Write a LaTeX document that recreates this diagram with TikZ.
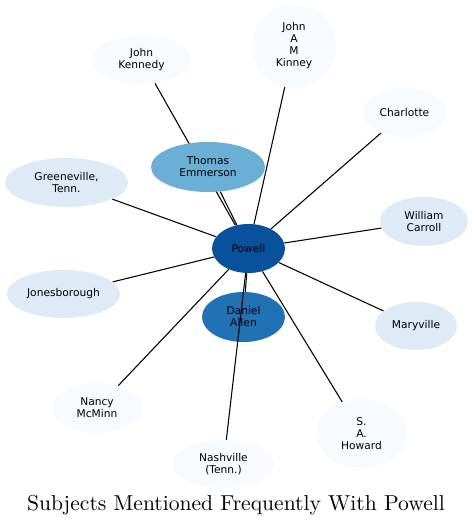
\documentclass[tikz,border=0pt]{standalone}
\usepackage{fontspec}
\usepackage{tikz}
\usetikzlibrary{shapes.geometric, backgrounds}
\newfontfamily\labelfont{DejaVu Sans}
\definecolor{blueA}{HTML}{F7FBFF}
\definecolor{blueB}{HTML}{DEEBF7}
\definecolor{blueC}{HTML}{6BAED6}
\definecolor{blueD}{HTML}{2171B5}
\definecolor{blueE}{HTML}{08519C}
\tikzset{
  subj/.style 2 args = {ellipse, inner sep=0pt, align=center,
                       minimum width=#1*1.5pt, minimum height=#2*1.5pt,
                       font=\labelfont\fontsize{8}{9}\selectfont},
  rare/.style     = {fill=blueA},
  some/.style     = {fill=blueB},
  often/.style    = {fill=blueC},
  most/.style     = {fill=blueD},
  hub/.style      = {fill=blueE},
  link/.style     = {draw=black, line width=0.8pt},
  caption/.style  = {font=\fontsize{10}{12}\selectfont, inner sep=0pt},
}

\begin{document}
\begin{tikzpicture}[x=0.75pt, y=-0.75pt]
  \useasboundingbox (0,0) rectangle (473,526);

  \node[subj={36.5}{24.5}, hub]   (powell)   at (248.5,248.5) {Powell};
  \node[subj={57}{25},     often] (emmerson) at (208,167)     {Thomas\\Emmerson};
  \node[subj={41.5}{25},   most]  (allen)    at (243.5,317)   {Daniel\\Allen};
  \node[subj={49.5}{24.5}, rare]  (kennedy)  at (141.5,59.5)  {John\\Kennedy};
  \node[subj={42}{42},     rare]  (kinney)   at (294,46)      {John\\A\\M\\Kinney};
  \node[subj={41.5}{24.5}, rare]  (charlotte) at (404.5,112.5) {Charlotte};
  \node[subj={61.5}{24.5}, some]  (greene)   at (66.5,182.5)  {Greeneville,\\Tenn.};
  \node[subj={44}{24.5},   some]  (carroll)  at (424,221.5)   {William\\Carroll};
  \node[subj={56.5}{24},   some]  (jones)    at (63.5,294)    {Jonesborough};
  \node[subj={41}{24},     some]  (maryville) at (416,326)    {Maryville};
  \node[subj={45}{25},     rare]  (mcminn)   at (97,408)      {Nancy\\McMinn};
  \node[subj={51.5}{24},   rare]  (nashville) at (223.5,464)  {Nashville\\(Tenn.)};
  \node[subj={45.5}{34.5}, rare]  (howard)   at (361.5,433.5) {S.\\A.\\Howard};

  \begin{scope}[on background layer]
    \foreach \s in {kennedy, emmerson, kinney, charlotte, carroll, maryville,
                    howard, allen, mcminn, jones, greene}
      \draw[link] (powell) -- (\s);
  \end{scope}
  \draw[link] (powell) -- (nashville);

  \node[caption] (title) at (236,505)
    {\scalebox{1.62}{Subjects Mentioned Frequently With Powell}};
\end{tikzpicture}
\end{document}
